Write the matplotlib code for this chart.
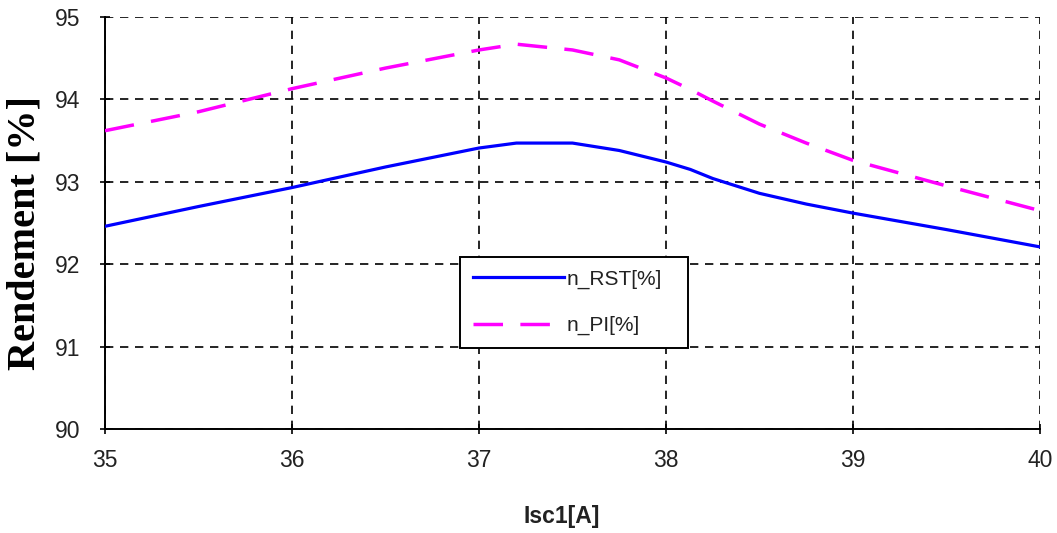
import matplotlib
matplotlib.use('Agg')
import matplotlib.pyplot as plt

# Isc1 [A]
isc = [35, 35.5, 36, 36.5, 37, 37.2, 37.5, 37.75, 38, 38.13, 38.25, 38.5, 38.75, 39, 39.5, 40]

# efficiency, RST controller
n_rst = [92.46, 92.70, 92.93, 93.18, 93.41, 93.47, 93.47, 93.38, 93.24, 93.15, 93.04,
         92.86, 92.73, 92.62, 92.42, 92.21]

# efficiency, PI controller
n_pi = [93.62, 93.85, 94.13, 94.38, 94.60, 94.67, 94.60, 94.48, 94.26, 94.12, 93.98,
        93.70, 93.47, 93.26, 92.95, 92.65]

fig = plt.figure(figsize=(10.57, 5.33), dpi=100)
ax = fig.add_axes([105 / 1057, 1 - 429 / 533, 935 / 1057, 412 / 533])

ax.plot(isc, n_rst, color='#0000ff', lw=2.3, label='n_RST[%]', zorder=3)
ax.plot(isc, n_pi, color='#ff00ff', lw=2.5, ls=(0, (8.5, 5.0)), label='n_PI[%]', zorder=3)

ax.set_xlim(35, 40)
ax.set_ylim(90, 95)
ax.set_xticks(range(35, 41))
ax.set_yticks(range(90, 96))

ax.grid(True, color='black', lw=1.2, ls=(0, (5.0, 4.0)))
for side in ['top', 'right']:
    ax.spines[side].set_visible(False)
for side in ['left', 'bottom']:
    ax.spines[side].set_linewidth(1.4)

ax.tick_params(axis='both', direction='inout', length=7, width=1.2, colors='black')
ax.tick_params(axis='x', pad=11)
ax.tick_params(axis='y', pad=14)
for lab in ax.get_xticklabels() + ax.get_yticklabels():
    lab.set_fontfamily('Liberation Sans')
    lab.set_fontsize(16.5)
    lab.set_color('#222222')

ax.set_xlabel('Isc1[A]', family='Liberation Sans', fontweight='bold', fontsize=16.5, color='#222222')
ax.xaxis.set_label_coords(0.488, -0.185)
ax.set_ylabel('Rendement [%]', family='Liberation Serif', fontweight='bold', fontsize=29)
ax.yaxis.set_label_coords(-0.066, 0.476)

leg = ax.legend(loc='lower left', bbox_to_anchor=(0.38, 0.197, 0.244, 0.22), mode='expand',
                prop={'family': 'Liberation Sans', 'size': 15}, handlelength=4.4,
                handletextpad=0.1, labelspacing=1.3, borderpad=0.6, borderaxespad=0,
                fancybox=False, framealpha=1, edgecolor='black')
leg.get_frame().set_linewidth(1.4)
for t in leg.get_texts():
    t.set_color('#222222')

fig.savefig('out.png', dpi=100, facecolor='white')
